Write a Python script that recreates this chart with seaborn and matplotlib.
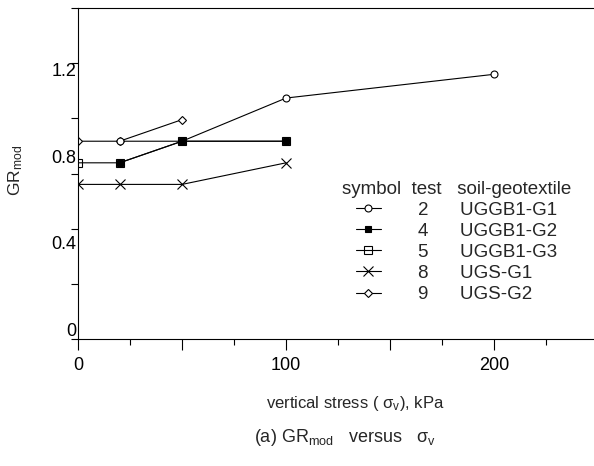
import numpy as np
import pandas as pd
import matplotlib
matplotlib.use("Agg")
import matplotlib.pyplot as plt
import seaborn as sns
from matplotlib.ticker import FixedLocator, NullFormatter

# --- data -------------------------------------------------------------
tests = ["2", "4", "5", "8", "9"]
materials = ["UGGB1-G1", "UGGB1-G2", "UGGB1-G3", "UGS-G1", "UGS-G2"]

stress_2 = [20, 50, 100, 200]
grmod_2 = [0.87, 0.87, 1.07, 1.18]

stress_4 = [20, 50, 100]
grmod_4 = [0.77, 0.87, 0.87]

stress_5 = [0, 20, 50, 100]
grmod_5 = [0.77, 0.77, 0.87, 0.87]

stress_8 = [0, 20, 50, 100]
grmod_8 = [0.67, 0.67, 0.67, 0.77]

stress_9 = [0, 20, 50]
grmod_9 = [0.87, 0.87, 0.97]

y_tick_values = [0, 0.4, 0.8, 1.2]
x_tick_labels = ["0", "", "100", "", "200"]

# --- style ------------------------------------------------------------
sns.set_style("ticks")
plt.rcParams["font.family"] = ["Liberation Sans", "DejaVu Sans"]
plt.rcParams["mathtext.fontset"] = "custom"
plt.rcParams["mathtext.rm"] = "Liberation Sans"
plt.rcParams["mathtext.it"] = "Liberation Sans:italic"
plt.rcParams["mathtext.sf"] = "Liberation Sans"

fig = plt.figure(figsize=(5.94, 4.66), dpi=100)
ax = fig.add_axes([78 / 594, 127 / 466, 516 / 594, 331 / 466])

series = {
    "2": (stress_2, grmod_2, dict(marker="o", ms=5, mfc="white", mew=0.8)),
    "9": (stress_9, grmod_9, dict(marker="D", ms=4.4, mfc="white", mew=0.8)),
    "5": (stress_5, grmod_5, dict(marker="s", ms=6, mfc="none", mew=0.8)),
    "4": (stress_4, grmod_4, dict(marker="s", ms=4.5, mfc="black", mew=0.8)),
    "8": (stress_8, grmod_8, dict(marker="x", ms=6.5, mew=0.8)),
}
draw_order = ["9", "2", "5", "4", "8"]

handles = {}
for t in draw_order:
    xs, ys, kw = series[t]
    df = pd.DataFrame({"stress": xs, "grmod": ys})
    sns.lineplot(data=df, x="stress", y="grmod", ax=ax, color="black",
                 lw=0.8, mec="black", estimator=None, sort=False, **kw)
    handles[t] = ax.lines[-1]

ax.set_xlim(0, 248)
ylo, yhi = -0.046, 1.487
ax.set_ylim(ylo, yhi)

# x axis ticks
ax.xaxis.set_major_locator(FixedLocator([0, 50, 100, 150, 200]))
ax.set_xticklabels(x_tick_labels)
ax.xaxis.set_minor_locator(FixedLocator([25, 75, 125, 175, 225]))
ax.tick_params(axis="x", which="major", length=8, width=0.8, pad=5,
               labelsize=13, direction="out", colors="black")
ax.tick_params(axis="x", which="minor", length=4, width=0.8,
               direction="out", colors="black")

# y axis ticks: labelled values, plus evenly spaced tick marks
ax.yaxis.set_major_locator(FixedLocator(y_tick_values))
ax.set_yticklabels(["0", "0.4", "0.8", "1.2"])
ax.yaxis.set_minor_locator(FixedLocator(np.linspace(ylo, yhi, 7)))
ax.yaxis.set_minor_formatter(NullFormatter())
ax.tick_params(axis="y", which="major", length=0, pad=1, labelsize=13,
               colors="black")
ax.tick_params(axis="y", which="minor", length=5, width=0.8,
               direction="out", colors="black")

for side in ["left", "bottom", "top"]:
    ax.spines[side].set_color("black")
    ax.spines[side].set_linewidth(0.8)
ax.spines["right"].set_visible(False)

ax.set_xlabel("vertical stress ( σ$_\\mathregular{v}$), kPa", fontsize=12)
ax.xaxis.set_label_coords(0.537, -0.196)
ax.xaxis.label.set_va("center")
ax.set_ylabel("GR$_\\mathregular{mod}$", fontsize=12.5)
ax.yaxis.set_label_coords(-0.12, 0.51)
ax.yaxis.label.set_va("center")

# legend table
leg_labels = [f"{t}      {m}" for t, m in zip(tests, materials)]
leg = ax.legend([handles[t] for t in tests], leg_labels,
                title="symbol  test   soil-geotextile",
                loc="upper left", bbox_to_anchor=(0.511, 0.478),
                frameon=False, fontsize=13.5, title_fontsize=13.5,
                handlelength=1.35, handletextpad=1.95, labelspacing=0.21,
                borderpad=0, borderaxespad=0, alignment="center")

fig.text(345 / 594, 1 - 437 / 466,
         "(a) GR$_\\mathregular{mod}$   versus   σ$_\\mathregular{v}$",
         ha="center", va="center", fontsize=13)

fig.savefig("out.png", dpi=100)
